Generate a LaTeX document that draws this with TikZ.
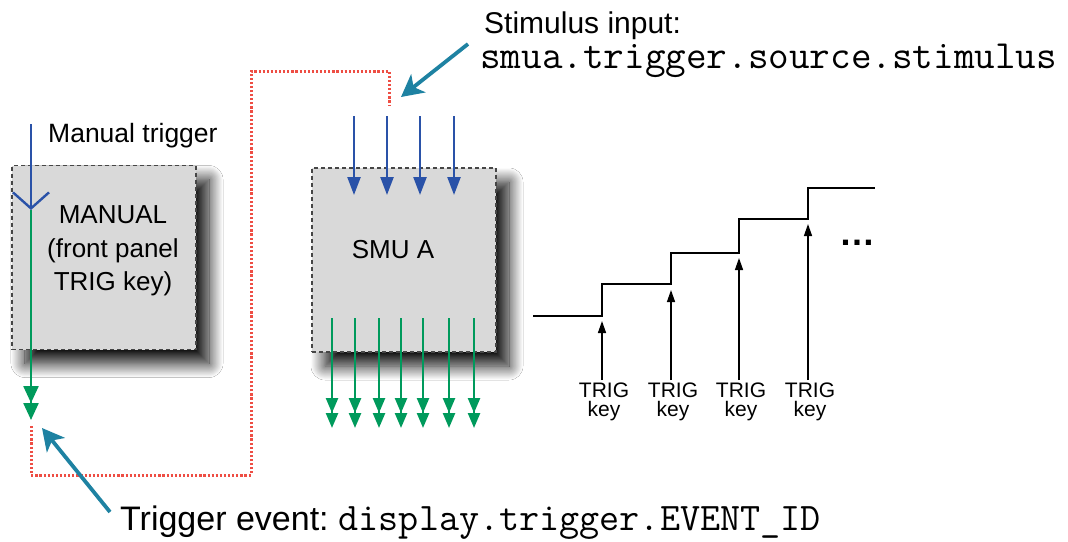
\documentclass[tikz,border=0pt]{standalone}
\usepackage{fontspec}
\setmainfont{Liberation Sans}
\usetikzlibrary{arrows.meta,shadows.blur}
\definecolor{blueA}{RGB}{42,82,168}
\definecolor{greenA}{RGB}{0,154,92}
\definecolor{redD}{RGB}{238,78,68}
\definecolor{tealA}{RGB}{30,130,162}
\definecolor{boxfill}{RGB}{217,217,217}
\definecolor{boxdraw}{RGB}{70,70,70}
\tikzset{
  blk/.style={draw=boxdraw, dash pattern=on 4pt off 3pt, line width=1.1pt, fill=boxfill,
    minimum width=184pt, minimum height=184pt, inner sep=0pt,
    blur shadow={shadow xshift=13pt, shadow yshift=-14pt, shadow blur radius=14pt,
      shadow blur steps=24, shadow opacity=95}},
  inarrow/.style={blueA, line width=2.4pt, -{Triangle[length=18pt,width=13pt]}},
  outarrow/.style={greenA, line width=2.4pt,
    -{Triangle[length=15pt,width=12pt,sep=0pt]Triangle[length=15pt,width=12pt]}},
  reddot/.style={redD, line width=3pt, dash pattern=on 2.2pt off 1.9pt},
  callout/.style={tealA, line width=3.8pt, -{Stealth[length=22pt,width=23pt,inset=6pt]}},
  keyarrow/.style={black, line width=1.4pt, -{Triangle[length=12pt,width=8pt]}},
  lbl/.style={inner sep=0pt, text=black},
}
\begin{document}
\begin{tikzpicture}[x=1pt,y=-1pt]
\useasboundingbox (0,0) rectangle (1068,541);
\fill[white] (0,0) rectangle (1068,541);

% boxes
\node[blk] (man) at (104,257.5) {};
\node[blk] (smu) at (404,260) {};

\node[lbl, align=center, font=\fontsize{26}{33.5}\selectfont] (mantext) at (113,251) {MANUAL\\(front panel\\TRIG key)};
\node[lbl, font=\fontsize{26}{30}\selectfont] (smutext) at (393,250) {SMU A};

% manual trigger
\node[lbl, anchor=base west, font=\fontsize{26.5}{30}\selectfont] (mtrig) at (48,142) {Manual trigger};
\coordinate (mtop) at (31,124);
\coordinate (mmid) at (31,210);
\coordinate (mbot) at (31,420);
\draw[blueA, line width=2.4pt, -{Straight Barb[length=16pt,width=36pt,line width=2.4pt]}] (mtop) -- (mmid);
\draw[outarrow, -{Triangle[length=17pt,width=15pt,sep=0pt]Triangle[length=17pt,width=15pt]}] (mmid) -- (mbot);

% red dotted connection
\coordinate (r0) at (31,426);
\coordinate (r5) at (389,105);
\draw[reddot] (r0) -- (31,475) -- (251,475) -- (251,71) -- (389,71) -- (r5);

% SMU inputs
\foreach \x [count=\i] in {354,387,420,454} {
  \coordinate (in\i) at (\x,116);
  \coordinate (ie\i) at (\x,195);
  \draw[inarrow] (in\i) -- (ie\i);
}
% SMU outputs
\foreach \x [count=\i] in {332,355,379,401,423,449,474} {
  \coordinate (os\i) at (\x,318);
  \coordinate (oe\i) at (\x,428);
  \draw[outarrow] (os\i) -- (oe\i);
}

% callouts
\node[lbl, anchor=base west, font=\fontsize{30}{36}\selectfont] (stim) at (484,33) {Stimulus input:};
\node[lbl, anchor=base west, font=\fontsize{40}{40}\selectfont\ttfamily] (stimcode) at (480,68) {smua.trigger.source.stimulus};
\coordinate (stail) at (468,44);
\coordinate (stip) at (401,97);
\draw[callout] (stail) -- (stip);

\node[lbl, anchor=base west, font=\fontsize{34}{36}\selectfont] (trev) at (120,530) {Trigger event:\hspace{10pt}{\fontsize{39}{36}\selectfont\ttfamily display.trigger.EVENT\_ID}};
\coordinate (ttail) at (110,512);
\coordinate (ttip) at (42,428);
\draw[callout] (ttail) -- (ttip);

% staircase
\draw[black, line width=1.4pt] (533,316) -- (602,316) -- (602,284) -- (671,284) -- (671,253)
  -- (739,253) -- (739,219) -- (808,219) -- (808,188) -- (875,188);

\foreach \x/\t [count=\i] in {602/321,671/290,739/258,808/224} {
  \node[lbl, align=center, font=\fontsize{21}{19}\selectfont] (k\i) at (\x+2,402) {TRIG\\key};
  \coordinate (ka\i) at (\x,380);
  \coordinate (kb\i) at (\x,\t);
  \draw[keyarrow] (ka\i) -- (kb\i);
}
\node[lbl, font=\fontsize{36}{36}\selectfont\bfseries] (dots) at (857,243) {…};
\end{tikzpicture}
\end{document}
